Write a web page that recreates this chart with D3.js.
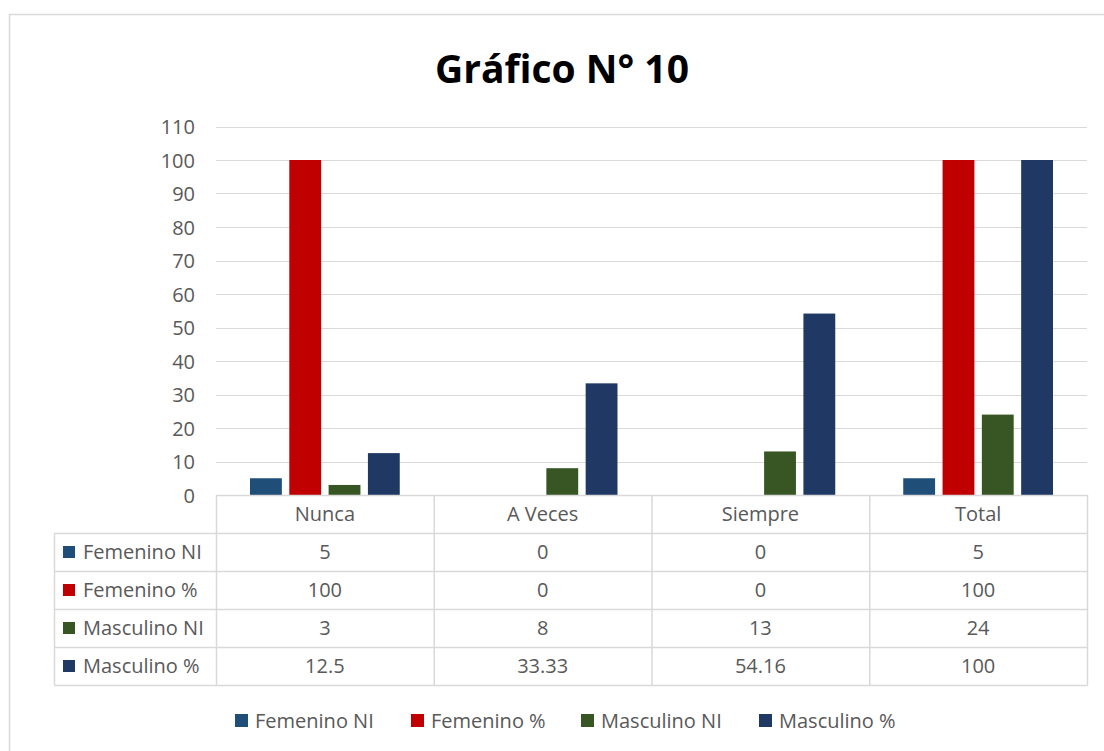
<!DOCTYPE html>
<html><head><meta charset="utf-8">
<script src="https://cdn.jsdelivr.net/npm/d3@7"></script>
<style>body{margin:0;background:#fff}svg{display:block}text{font-family:"Open Sans",sans-serif}</style>
</head><body><svg id="c" width="1104" height="751"></svg>
<script>
const categories = ["Nunca", "A Veces", "Siempre", "Total"];
const seriesNames = ["Femenino NI", "Femenino %", "Masculino NI", "Masculino %"];
const femeninoNI = [5, 0, 0, 5];
const femeninoPct = [100, 0, 0, 100];
const masculinoNI = [3, 8, 13, 24];
const masculinoPct = [12.5, 33.33, 54.16, 100];
const tableLabels = [["5","0","0","5"],["100","0","0","100"],["3","8","13","24"],["12.5","33.33","54.16","100"]];
const yTicks = [0,10,20,30,40,50,60,70,80,90,100,110];
const colors = ["#1F4E79", "#C00000", "#375623", "#1F3864"];
const seriesValues = [femeninoNI, femeninoPct, masculinoNI, masculinoPct];

const svg = d3.select("#c");
svg.append("rect").attr("x",9.5).attr("y",14.5).attr("width",1120).attr("height",780)
  .attr("fill","#fff").attr("stroke","#d9d9d9").attr("stroke-width",1.5);

svg.append("text").attr("x",562).attr("y",83).attr("text-anchor","middle")
  .attr("font-size",39).attr("font-weight","bold").attr("fill","#000").text("Gráfico N° 10");

const plotL = 216, plotR = 1087, plotTop = 126.5, plotBottom = 495;
const y = d3.scaleLinear().domain([0,110]).range([plotBottom, plotTop]);
const x0 = d3.scaleBand().domain(categories).range([plotL, plotR]).paddingInner(0).paddingOuter(0);
const x1 = d3.scaleBand().domain(seriesNames).range([34, x0.bandwidth()-34]).paddingInner(0.19).paddingOuter(0);

// gridlines
svg.append("g").selectAll("line").data(yTicks.filter(d=>d>0)).join("line")
  .attr("x1",plotL).attr("x2",plotR).attr("y1",d=>Math.round(y(d))+0.5).attr("y2",d=>Math.round(y(d))+0.5)
  .attr("stroke","#d9d9d9").attr("stroke-width",1);

// y axis labels
const yAxis = d3.axisLeft(y).tickValues(yTicks).tickSize(0).tickPadding(0);
const ga = svg.append("g").attr("transform",`translate(195,0)`).call(yAxis);
ga.select(".domain").remove();
ga.selectAll("text").attr("font-size",20).attr("fill","#595959").attr("font-family","'Open Sans',sans-serif").attr("dy","0.36em");

// bars
const groups = svg.append("g").selectAll("g").data(categories).join("g")
  .attr("transform",d=>`translate(${x0(d)},0)`);
groups.selectAll("rect").data((c,i)=>seriesNames.map((s,j)=>({s, v: seriesValues[j][i], j})))
  .join("rect").attr("x",d=>x1(d.s)).attr("width",x1.bandwidth())
  .attr("y",d=>y(d.v)).attr("height",d=>plotBottom-y(d.v)).attr("fill",d=>colors[d.j]);

// data table
const tl = 54.5, rowH = 38;
const rowTops = [495, 533, 571, 609, 647, 685];
const tg = svg.append("g");
const gc = "#d9d9d9";
rowTops.forEach((ry,i)=>{
  tg.append("line").attr("x1", i===0?plotL:tl).attr("x2",plotR+0.5).attr("y1",ry+0.5).attr("y2",ry+0.5).attr("stroke",gc).attr("stroke-width",1.5);
});
tg.append("line").attr("x1",tl).attr("x2",tl).attr("y1",533).attr("y2",685.5).attr("stroke",gc).attr("stroke-width",1.5);
categories.forEach(c=>{
  tg.append("line").attr("x1",x0(c)+0.5).attr("x2",x0(c)+0.5).attr("y1",495).attr("y2",685.5).attr("stroke",gc).attr("stroke-width",1.5);
});
tg.append("line").attr("x1",plotR+0.5).attr("x2",plotR+0.5).attr("y1",495).attr("y2",685.5).attr("stroke",gc).attr("stroke-width",1.5);

categories.forEach(c=>{
  tg.append("text").attr("x",x0(c)+x0.bandwidth()/2).attr("y",514).attr("dy","0.36em")
    .attr("text-anchor","middle").attr("font-size",20).attr("fill","#595959").text(c);
});
seriesNames.forEach((s,j)=>{
  const cy = rowTops[j+1] + rowH/2;
  tg.append("rect").attr("x",63).attr("y",cy-6).attr("width",12).attr("height",12).attr("fill",colors[j]);
  tg.append("text").attr("x",83).attr("y",cy).attr("dy","0.36em").attr("font-size",20).attr("fill","#595959").text(s);
  categories.forEach((c,i)=>{
    tg.append("text").attr("x",x0(c)+x0.bandwidth()/2).attr("y",cy).attr("dy","0.36em")
      .attr("text-anchor","middle").attr("font-size",20).attr("fill","#595959").text(tableLabels[j][i]);
  });
});

// legend
const legX = [235, 411, 581, 759];
const lg = svg.append("g");
seriesNames.forEach((s,j)=>{
  lg.append("rect").attr("x",legX[j]).attr("y",714).attr("width",13).attr("height",13).attr("fill",colors[j]);
  lg.append("text").attr("x",legX[j]+20).attr("y",720.5).attr("dy","0.36em").attr("font-size",20).attr("fill","#595959").text(s);
});
</script></body></html>
